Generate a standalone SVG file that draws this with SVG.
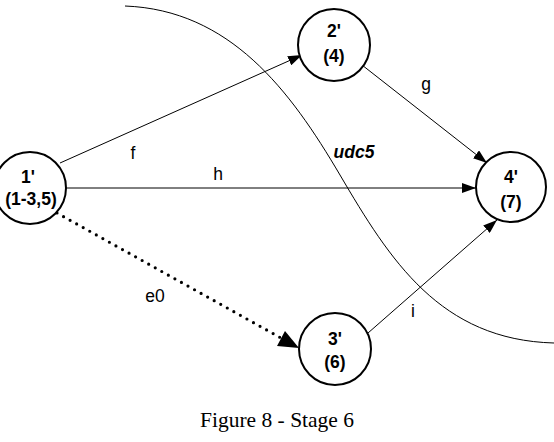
<svg xmlns="http://www.w3.org/2000/svg" width="554" height="442" viewBox="0 0 554 442">
<style>
.node circle{fill:#fff;stroke:#000;stroke-width:2}
.node text{font-family:"Liberation Sans",Arial,sans-serif;font-weight:bold;font-size:17.5px;text-anchor:middle;fill:#000}
.edge{stroke:#000;stroke-width:1;fill:none}
.lbl{font-family:"Liberation Sans",Arial,sans-serif;font-size:17.5px;fill:#000;text-anchor:middle}
</style>
<defs>
<marker id="ah" markerWidth="14" markerHeight="10" refX="14" refY="5" orient="auto" markerUnits="userSpaceOnUse">
<path d="M0,0 L14,5 L0,10 Z" fill="#000"/>
</marker>
</defs>
<path d="M125,6 C230,10 290,90 340,175 S440,340 554,343" fill="none" stroke="#000" stroke-width="1"/>
<g id="connectors">
<line class="edge" x1="60" y1="163" x2="302" y2="55" marker-end="url(#ah)"/>
<line class="edge" x1="66" y1="188" x2="476" y2="188" marker-end="url(#ah)"/>
<line class="edge" x1="362" y1="65" x2="487" y2="163" marker-end="url(#ah)"/>
<line class="edge" x1="368" y1="333" x2="497" y2="220" marker-end="url(#ah)"/>
<line x1="57" y1="213" x2="281" y2="338" stroke="#000" stroke-width="3.2" stroke-linecap="round" stroke-dasharray="0 7.5"/>
<path d="M285,331 L299,348 L277,346 Z" fill="#000"/>
</g>
<text class="lbl" x="133" y="159">f</text>
<text class="lbl" x="218" y="180">h</text>
<text class="lbl" x="426" y="90">g</text>
<text class="lbl" x="413" y="317">i</text>
<text class="lbl" x="155" y="302">e0</text>
<text class="lbl" x="354" y="158" font-weight="bold" font-style="italic" font-size="19px">udc5</text>
<g id="n1" class="node"><circle cx="30" cy="188" r="36"/><text x="28" y="183">1'</text><text x="31" y="205">(1-3,5)</text></g>
<g id="n2" class="node"><circle cx="334" cy="45" r="36"/><text x="334" y="37">2'</text><text x="334" y="62">(4)</text></g>
<g id="n3" class="node"><circle cx="335" cy="349" r="36"/><text x="335" y="345">3'</text><text x="335" y="368">(6)</text></g>
<g id="n4" class="node"><circle cx="511" cy="187" r="35"/><text x="511" y="183">4'</text><text x="511" y="208">(7)</text></g>
<text x="277" y="427" font-family="'Liberation Serif',serif" font-size="21.5" text-anchor="middle">Figure 8 - Stage 6</text>
</svg>
